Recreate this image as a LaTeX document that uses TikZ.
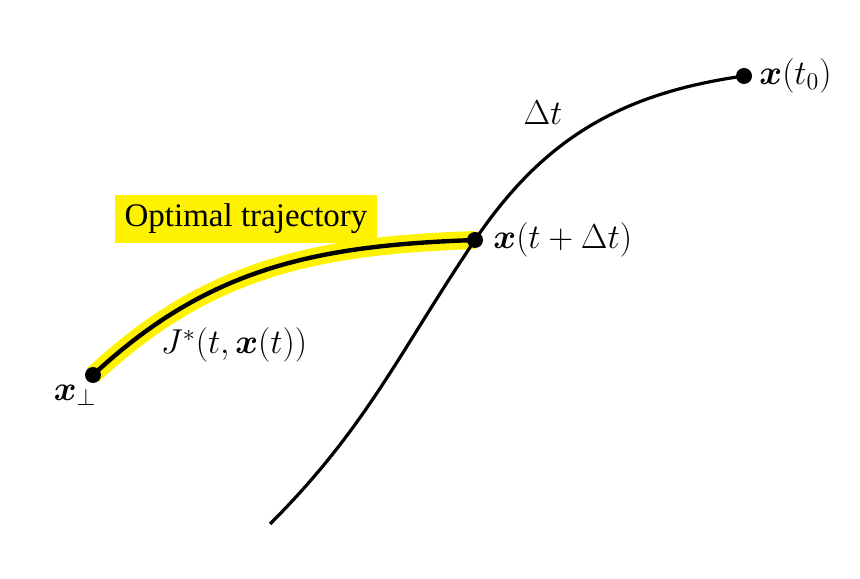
\documentclass[tikz,border=0pt]{standalone}
\usepackage{amsmath}
\usepackage{bm}
\usepackage{fontspec}
\setmainfont{Liberation Serif}
\usetikzlibrary{positioning}
\tikzset{
every node/.style={font=\fontsize{16.5}{19}\selectfont}, % text size of all labels
dot/.style={circle, fill=black, inner sep=0pt, minimum size=8pt}, % the states on the curves
curve/.style={line width=1.6pt}, % the trajectory through x(t0)
optimal/.style={line width=2.2pt}, % the optimal trajectory
highlight/.style={line width=9pt, yellow}, % yellow marker under it
}

\begin{document}
\begin{tikzpicture}[x=0.5pt, y=0.5pt]
                \useasboundingbox (0,0) rectangle (860,578);

                \coordinate (t0) at (744,502);
                \coordinate (tdt) at (475,338);
                \coordinate (xperp) at (93,203);
                \coordinate (low) at (270,54);

                \draw[highlight] (xperp) to[out=43, in=182] (tdt);
                \draw[optimal] (xperp) to[out=43, in=182] (tdt);
                \draw[curve] (t0) to[out=188, in=56] (tdt) to[out=236, in=45] (low);

                \node[dot] (dt0) at (t0) {};
                \node[dot] (dtdt) at (tdt) {};
                \node[dot] (dperp) at (xperp) {};

                \node[right=0pt of dt0] {$\bm{x}(t_0)$};
                \node[right=1.5pt of dtdt] {$\bm{x}(t+\Delta t)$};
                \node at (75,183) {$\bm{x}_{\perp}$};
                \node at (543,465) {$\Delta t$};
                \node at (234,233) {$J^{*}(t,\bm{x}(t))$};
                \node[fill=yellow, minimum width=131pt, minimum height=24pt] (opt) at (246,359) {Optimal trajectory};
                \end{tikzpicture}
\end{document}
